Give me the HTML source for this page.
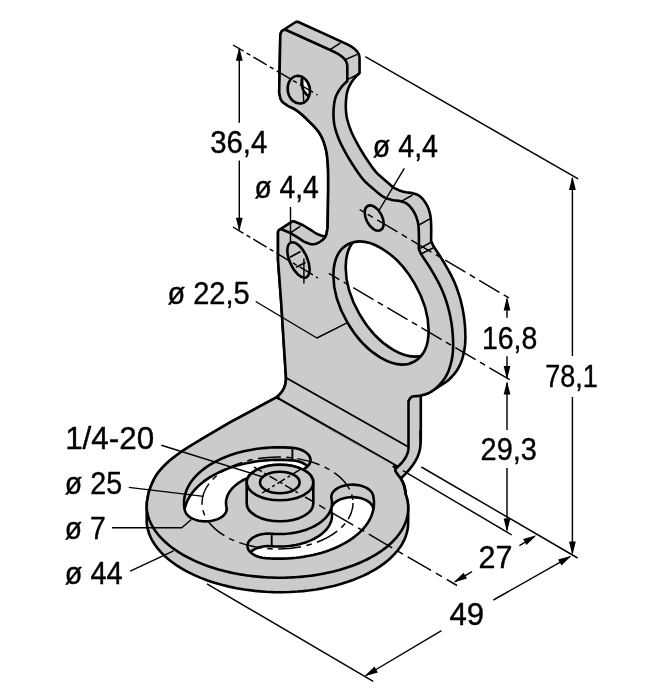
<!DOCTYPE html>
<html><head><meta charset="utf-8"><style>html,body{margin:0;padding:0;background:#fff;width:653px;height:700px;overflow:hidden}svg{display:block}text{font-family:"Liberation Sans",sans-serif;fill:#000;stroke:#000;stroke-width:0.4px}</style></head><body>
<svg width="653" height="700" viewBox="0 0 653 700"><defs><clipPath id="sl0"><path d="M184.92,510.75 L184.41,508.19 L184.1,505.61 L184,503.03 L184.1,500.46 L184.4,497.88 L184.91,495.32 L185.62,492.77 L186.53,490.25 L187.63,487.75 L188.94,485.29 L190.43,482.86 L192.12,480.48 L193.99,478.15 L196.05,475.87 L198.28,473.64 L200.69,471.48 L203.26,469.39 L206,467.37 L208.9,465.43 L211.94,463.57 L215.13,461.79 L218.46,460.1 L221.91,458.5 L225.49,457 L229.19,455.6 L232.99,454.3 L236.89,453.1 L240.88,452.01 L244.95,451.03 L249.09,450.16 L253.3,449.41 L257.57,448.77 L261.88,448.24 L266.22,447.84 L270.6,447.55 L274.99,447.38 L279.39,447.33 L283.79,447.4 L288.18,447.59 L292.55,447.9 L295.76,448.32 L298.83,449.04 L301.66,450.02 L304.2,451.26 L306.37,452.71 L308.13,454.34 L309.43,456.11 L310.25,457.98 L310.55,459.91 L310.34,461.83 L309.62,463.72 L308.4,465.51 L306.71,467.17 L304.61,468.66 L302.13,469.93 L299.35,470.96 L296.32,471.73 L293.13,472.21 L289.85,472.38 L286.56,472.26 L284.12,472.09 L281.67,471.98 L279.22,471.94 L276.76,471.97 L274.31,472.06 L271.87,472.22 L269.45,472.45 L267.04,472.74 L264.66,473.1 L262.31,473.52 L260,474.01 L257.73,474.55 L255.5,475.16 L253.33,475.83 L251.21,476.55 L249.15,477.34 L247.15,478.17 L245.22,479.07 L243.37,480.01 L241.59,481 L239.89,482.04 L238.28,483.12 L236.75,484.25 L235.31,485.42 L233.97,486.62 L232.72,487.86 L231.57,489.13 L230.53,490.44 L229.59,491.77 L228.75,493.12 L228.03,494.49 L227.41,495.89 L226.9,497.29 L226.51,498.72 L226.22,500.14 L226.06,501.58 L226,503.02 L226.06,504.46 L226.23,505.89 L226.52,507.32 L226.72,509.25 L226.4,511.17 L225.58,513.04 L224.26,514.81 L222.49,516.44 L220.31,517.89 L217.77,519.12 L214.93,520.1 L211.86,520.8 L208.64,521.22 L205.35,521.34 L202.07,521.15 L198.88,520.67 L195.86,519.9 L193.08,518.86 L190.61,517.58 L188.52,516.09 L186.85,514.43 L185.64,512.63 Z"/></clipPath><clipPath id="sl1"><path d="M373.08,495.25 L373.59,497.81 L373.9,500.39 L374,502.97 L373.9,505.54 L373.6,508.12 L373.09,510.68 L372.38,513.23 L371.47,515.75 L370.37,518.25 L369.06,520.71 L367.57,523.14 L365.88,525.52 L364.01,527.85 L361.95,530.13 L359.72,532.36 L357.31,534.52 L354.74,536.61 L352,538.63 L349.1,540.57 L346.06,542.43 L342.87,544.21 L339.54,545.9 L336.09,547.5 L332.51,549 L328.81,550.4 L325.01,551.7 L321.11,552.9 L317.12,553.99 L313.05,554.97 L308.91,555.84 L304.7,556.59 L300.43,557.23 L296.12,557.76 L291.78,558.16 L287.4,558.45 L283.01,558.62 L278.61,558.67 L274.21,558.6 L269.82,558.41 L265.45,558.1 L262.24,557.68 L259.17,556.96 L256.34,555.98 L253.8,554.74 L251.63,553.29 L249.87,551.66 L248.57,549.89 L247.75,548.02 L247.45,546.09 L247.66,544.17 L248.38,542.28 L249.6,540.49 L251.29,538.83 L253.39,537.34 L255.87,536.07 L258.65,535.04 L261.68,534.27 L264.87,533.79 L268.15,533.62 L271.44,533.74 L273.88,533.91 L276.33,534.02 L278.78,534.06 L281.24,534.03 L283.69,533.94 L286.13,533.78 L288.55,533.55 L290.96,533.26 L293.34,532.9 L295.69,532.48 L298,531.99 L300.27,531.45 L302.5,530.84 L304.67,530.17 L306.79,529.45 L308.85,528.66 L310.85,527.83 L312.78,526.93 L314.63,525.99 L316.41,525 L318.11,523.96 L319.72,522.88 L321.25,521.75 L322.69,520.58 L324.03,519.38 L325.28,518.14 L326.43,516.87 L327.47,515.56 L328.41,514.23 L329.25,512.88 L329.97,511.51 L330.59,510.11 L331.1,508.71 L331.49,507.28 L331.78,505.86 L331.94,504.42 L332,502.98 L331.94,501.54 L331.77,500.11 L331.48,498.68 L331.28,496.75 L331.6,494.83 L332.42,492.96 L333.74,491.19 L335.51,489.56 L337.69,488.11 L340.23,486.88 L343.07,485.9 L346.14,485.2 L349.36,484.78 L352.65,484.66 L355.93,484.85 L359.12,485.33 L362.14,486.1 L364.92,487.14 L367.39,488.42 L369.48,489.91 L371.15,491.57 L372.36,493.37 Z"/></clipPath><clipPath id="bh"><ellipse cx="381" cy="303" rx="67.36" ry="38.89" transform="rotate(60 381 303)"/></clipPath><clipPath id="h1"><ellipse cx="298.8" cy="89.7" rx="13.9" ry="11.1" transform="rotate(80 298.8 89.7)"/></clipPath></defs><rect width="653" height="700" fill="#fff"/><g stroke-linejoin="round" stroke-linecap="butt"><path d="M156.5,475 L154.36,478.6 L152.13,483.18 L150.28,487.79 L148.99,491.64 L148.23,494.86 L146.9,502 L146.71,507.99 L146.71,522.49 L147.03,525.41 L147.57,528.33 L148.79,532.68 L150.5,536.99 L151.91,539.82 L154.43,544.02 L157.41,548.13 L160.86,552.14 L164.75,556.02 L167.58,558.54 L170.59,561 L175.46,564.55 L180.71,567.95 L184.42,570.11 L188.29,572.19 L194.37,575.14 L200.77,577.89 L207.46,580.42 L214.41,582.73 L221.61,584.8 L229.02,586.63 L236.62,588.21 L244.37,589.54 L254.89,590.9 L260.22,591.4 L265.57,591.78 L273.64,592.14 L281.72,592.22 L289.78,592.02 L297.8,591.56 L303.1,591.11 L308.36,590.53 L316.14,589.45 L323.78,588.1 L328.78,587.07 L333.69,585.92 L340.87,583.99 L347.81,581.82 L354.48,579.42 L362.91,575.87 L368.86,572.97 L374.46,569.87 L379.69,566.58 L384.52,563.12 L387.52,560.73 L390.34,558.26 L394.19,554.45 L397.6,550.51 L400.56,546.46 L402.27,543.71 L403.76,540.92 L405.04,538.09 L406.11,535.24 L407.3,530.91 L407.82,528 L408.18,523.63 L408.14,506.2 L407.88,503.28 L407.4,500.36 L406.7,497.45 L405.78,494.56 L404.96,489.34 L404.43,486.81 L403.94,485.19 L403.34,483.6 L401.95,480.59 L400.74,478.44 L397.5,474.01 L397.5,466.5 L276.8,397.2 L230,422.4 L203.33,438.09 L184.59,449.56 L176.57,455.19 L172.6,458.21 L167.6,462.5 L161.92,468.17 L158.81,471.8 Z " fill="#cbcbcb" stroke="#000" stroke-width="2.6" />
<path d="M276.8,397.2 L230,422.4 L229.3,422.81 L228.6,423.23 L227.89,423.64 L227.18,424.06 L226.46,424.49 L225.74,424.91 L225.02,425.34 L224.29,425.76 L223.56,426.19 L222.83,426.62 L222.09,427.06 L221.35,427.49 L220.61,427.92 L219.87,428.36 L219.13,428.79 L218.39,429.23 L217.65,429.66 L216.9,430.1 L216.16,430.53 L215.42,430.96 L214.68,431.4 L213.95,431.83 L213.21,432.26 L212.48,432.69 L211.75,433.12 L211.02,433.55 L210.3,433.97 L209.58,434.4 L208.86,434.82 L208.15,435.24 L207.44,435.65 L206.74,436.07 L206.05,436.48 L205.36,436.89 L204.68,437.29 L204,437.69 L203.33,438.09 L202.67,438.48 L202.02,438.87 L201.37,439.26 L200.74,439.64 L200.11,440.01 L199.49,440.38 L198.88,440.75 L198.29,441.11 L197.7,441.47 L197.12,441.82 L196.55,442.16 L196,442.5 L195.16,443.01 L194.35,443.51 L193.56,443.99 L192.79,444.45 L192.04,444.91 L191.31,445.35 L190.6,445.79 L189.89,446.22 L189.21,446.64 L188.53,447.06 L187.86,447.47 L187.2,447.89 L186.54,448.3 L185.89,448.72 L185.24,449.14 L184.59,449.56 L183.94,449.99 L183.29,450.43 L182.63,450.87 L181.97,451.33 L181.3,451.8 L180.62,452.28 L179.95,452.76 L179.27,453.24 L178.59,453.72 L177.92,454.2 L177.24,454.69 L176.57,455.19 L175.9,455.68 L175.24,456.18 L174.57,456.68 L173.91,457.19 L173.25,457.7 L172.6,458.21 L171.95,458.73 L171.31,459.25 L170.68,459.78 L170.05,460.31 L169.42,460.85 L168.81,461.39 L168.2,461.94 L167.6,462.5 L167.02,463.05 L166.43,463.6 L165.86,464.16 L165.28,464.72 L164.71,465.28 L164.14,465.85 L163.58,466.43 L163.02,467 L162.47,467.58 L161.92,468.17 L161.38,468.76 L160.85,469.36 L160.33,469.96 L159.81,470.57 L159.31,471.18 L158.81,471.8 L158.33,472.43 L157.85,473.06 L157.39,473.7 L156.94,474.35 L156.5,475 L156.05,475.69 L155.62,476.4 L155.19,477.12 L154.77,477.85 L154.36,478.6 L153.97,479.35 L153.58,480.1 L153.2,480.87 L152.84,481.64 L152.48,482.41 L152.13,483.18 L151.8,483.96 L151.47,484.73 L151.16,485.5 L150.85,486.27 L150.56,487.03 L150.28,487.79 L150.01,488.53 L149.75,489.27 L149.5,490 L149.23,490.82 L148.99,491.64 L148.78,492.45 L148.58,493.26 L148.4,494.06 L148.23,494.86 L148.08,495.66 L147.93,496.45 L147.79,497.24 L147.65,498.03 L147.51,498.82 L147.37,499.61 L147.22,500.41 L147.07,501.2 L146.9,502 L146.71,507.99 L146.84,509.45 L147.03,510.91 L147.27,512.37 L147.57,513.83 L147.92,515.28 L148.33,516.73 L148.79,518.18 L149.31,519.62 L149.88,521.06 L150.5,522.49 L151.18,523.91 L151.91,525.32 L152.7,526.73 L153.54,528.13 L154.43,529.52 L155.37,530.9 L156.37,532.27 L157.41,533.63 L158.51,534.98 L159.66,536.31 L160.86,537.64 L162.1,538.95 L163.4,540.24 L164.75,541.52 L166.14,542.79 L167.58,544.04 L169.06,545.28 L170.59,546.5 L172.17,547.7 L173.79,548.89 L175.46,550.05 L177.17,551.2 L178.92,552.33 L180.71,553.45 L182.55,554.54 L184.42,555.61 L186.34,556.66 L188.29,557.69 L190.28,558.69 L192.31,559.68 L194.37,560.64 L196.47,561.58 L198.6,562.5 L200.77,563.39 L202.97,564.26 L205.2,565.11 L207.46,565.92 L209.75,566.72 L212.07,567.49 L214.41,568.23 L216.79,568.95 L219.19,569.64 L221.61,570.3 L224.06,570.94 L226.53,571.55 L229.02,572.13 L231.54,572.69 L234.07,573.22 L236.62,573.71 L239.19,574.18 L241.77,574.63 L244.37,575.04 L246.98,575.42 L249.61,575.78 L252.25,576.1 L254.89,576.4 L257.55,576.66 L260.22,576.9 L262.89,577.11 L265.57,577.28 L268.26,577.43 L270.95,577.55 L273.64,577.64 L276.33,577.69 L279.02,577.72 L281.72,577.72 L284.41,577.68 L287.1,577.62 L289.78,577.52 L292.46,577.4 L295.13,577.25 L297.8,577.06 L300.45,576.85 L303.1,576.61 L305.73,576.33 L308.36,576.03 L310.97,575.7 L313.56,575.34 L316.14,574.95 L318.71,574.53 L321.25,574.08 L323.78,573.6 L326.29,573.1 L328.78,572.57 L331.25,572.01 L333.69,571.42 L336.11,570.8 L338.5,570.16 L340.87,569.49 L343.21,568.79 L345.53,568.07 L347.81,567.32 L350.06,566.54 L352.29,565.74 L354.48,564.92 L356.64,564.07 L358.77,563.19 L360.86,562.3 L362.91,561.37 L364.93,560.43 L366.92,559.46 L368.86,558.47 L370.77,557.46 L372.63,556.42 L374.46,555.37 L376.24,554.29 L377.99,553.2 L379.69,552.08 L381.34,550.95 L382.96,549.79 L384.52,548.62 L386.05,547.43 L387.52,546.23 L388.95,545 L390.34,543.76 L391.67,542.51 L392.96,541.24 L394.19,539.95 L395.38,538.65 L396.52,537.34 L397.6,536.01 L398.64,534.68 L399.63,533.33 L400.56,531.96 L401.44,530.59 L402.27,529.21 L403.04,527.82 L403.76,526.42 L404.43,525.01 L405.04,523.59 L405.6,522.17 L406.11,520.74 L406.56,519.3 L406.96,517.86 L407.3,516.41 L407.58,514.96 L407.82,513.5 L407.99,512.05 L408.11,510.59 L408.18,509.13 L408.19,507.66 L408.14,506.2 L408.04,504.74 L407.88,503.28 L407.67,501.82 L407.4,500.36 L407.08,498.9 L406.7,497.45 L406.27,496 L405.78,494.56 L405.63,493.7 L405.49,492.83 L405.36,491.96 L405.23,491.08 L405.1,490.2 L404.96,489.34 L404.8,488.48 L404.63,487.63 L404.43,486.81 L404.2,486 L403.94,485.19 L403.65,484.39 L403.34,483.6 L403.02,482.83 L402.67,482.06 L402.32,481.32 L401.95,480.59 L401.58,479.88 L401.2,479.2 L400.74,478.44 L400.25,477.72 L399.75,477.02 L399.24,476.34 L398.73,475.68 L398.25,475.03 L397.8,474.4 L397.28,473.68 L396.75,472.99 L396.26,472.31 L395.86,471.65 L395.6,471 L395.46,470.17 L395.49,469.36 L395.7,468.6 L396.17,467.86 L396.84,467.18 L397.5,466.5 Z" fill="#cbcbcb" stroke="#000" stroke-width="2.6" />
<path d="M184.92,510.75 L184.41,508.19 L184.1,505.61 L184,503.03 L184.1,500.46 L184.4,497.88 L184.91,495.32 L185.62,492.77 L186.53,490.25 L187.63,487.75 L188.94,485.29 L190.43,482.86 L192.12,480.48 L193.99,478.15 L196.05,475.87 L198.28,473.64 L200.69,471.48 L203.26,469.39 L206,467.37 L208.9,465.43 L211.94,463.57 L215.13,461.79 L218.46,460.1 L221.91,458.5 L225.49,457 L229.19,455.6 L232.99,454.3 L236.89,453.1 L240.88,452.01 L244.95,451.03 L249.09,450.16 L253.3,449.41 L257.57,448.77 L261.88,448.24 L266.22,447.84 L270.6,447.55 L274.99,447.38 L279.39,447.33 L283.79,447.4 L288.18,447.59 L292.55,447.9 L295.76,448.32 L298.83,449.04 L301.66,450.02 L304.2,451.26 L306.37,452.71 L308.13,454.34 L309.43,456.11 L310.25,457.98 L310.55,459.91 L310.34,461.83 L309.62,463.72 L308.4,465.51 L306.71,467.17 L304.61,468.66 L302.13,469.93 L299.35,470.96 L296.32,471.73 L293.13,472.21 L289.85,472.38 L286.56,472.26 L284.12,472.09 L281.67,471.98 L279.22,471.94 L276.76,471.97 L274.31,472.06 L271.87,472.22 L269.45,472.45 L267.04,472.74 L264.66,473.1 L262.31,473.52 L260,474.01 L257.73,474.55 L255.5,475.16 L253.33,475.83 L251.21,476.55 L249.15,477.34 L247.15,478.17 L245.22,479.07 L243.37,480.01 L241.59,481 L239.89,482.04 L238.28,483.12 L236.75,484.25 L235.31,485.42 L233.97,486.62 L232.72,487.86 L231.57,489.13 L230.53,490.44 L229.59,491.77 L228.75,493.12 L228.03,494.49 L227.41,495.89 L226.9,497.29 L226.51,498.72 L226.22,500.14 L226.06,501.58 L226,503.02 L226.06,504.46 L226.23,505.89 L226.52,507.32 L226.72,509.25 L226.4,511.17 L225.58,513.04 L224.26,514.81 L222.49,516.44 L220.31,517.89 L217.77,519.12 L214.93,520.1 L211.86,520.8 L208.64,521.22 L205.35,521.34 L202.07,521.15 L198.88,520.67 L195.86,519.9 L193.08,518.86 L190.61,517.58 L188.52,516.09 L186.85,514.43 L185.64,512.63 Z" fill="#cbcbcb" stroke="none" stroke-width="0" />
<g clip-path="url(#sl0)">
<path d="M184.92,523.25 L184.41,520.69 L184.1,518.11 L184,515.53 L184.1,512.96 L184.4,510.38 L184.91,507.82 L185.62,505.27 L186.53,502.75 L187.63,500.25 L188.94,497.79 L190.43,495.36 L192.12,492.98 L193.99,490.65 L196.05,488.37 L198.28,486.14 L200.69,483.98 L203.26,481.89 L206,479.87 L208.9,477.93 L211.94,476.07 L215.13,474.29 L218.46,472.6 L221.91,471 L225.49,469.5 L229.19,468.1 L232.99,466.8 L236.89,465.6 L240.88,464.51 L244.95,463.53 L249.09,462.66 L253.3,461.91 L257.57,461.27 L261.88,460.74 L266.22,460.34 L270.6,460.05 L274.99,459.88 L279.39,459.83 L283.79,459.9 L288.18,460.09 L292.55,460.4 L295.76,460.82 L298.83,461.54 L301.66,462.52 L304.2,463.76 L306.37,465.21 L308.13,466.84 L309.43,468.61 L310.25,470.48 L310.55,472.41 L310.34,474.33 L309.62,476.22 L308.4,478.01 L306.71,479.67 L304.61,481.16 L302.13,482.43 L299.35,483.46 L296.32,484.23 L293.13,484.71 L289.85,484.88 L286.56,484.76 L284.12,484.59 L281.67,484.48 L279.22,484.44 L276.76,484.47 L274.31,484.56 L271.87,484.72 L269.45,484.95 L267.04,485.24 L264.66,485.6 L262.31,486.02 L260,486.51 L257.73,487.05 L255.5,487.66 L253.33,488.33 L251.21,489.05 L249.15,489.84 L247.15,490.67 L245.22,491.57 L243.37,492.51 L241.59,493.5 L239.89,494.54 L238.28,495.62 L236.75,496.75 L235.31,497.92 L233.97,499.12 L232.72,500.36 L231.57,501.63 L230.53,502.94 L229.59,504.27 L228.75,505.62 L228.03,506.99 L227.41,508.39 L226.9,509.79 L226.51,511.22 L226.22,512.64 L226.06,514.08 L226,515.52 L226.06,516.96 L226.23,518.39 L226.52,519.82 L226.72,521.75 L226.4,523.67 L225.58,525.54 L224.26,527.31 L222.49,528.94 L220.31,530.39 L217.77,531.62 L214.93,532.6 L211.86,533.3 L208.64,533.72 L205.35,533.84 L202.07,533.65 L198.88,533.17 L195.86,532.4 L193.08,531.36 L190.61,530.08 L188.52,528.59 L186.85,526.93 L185.64,525.13 Z" fill="#fff" stroke="#000" stroke-width="2.6" />
</g>
<path d="M184.92,510.75 L184.41,508.19 L184.1,505.61 L184,503.03 L184.1,500.46 L184.4,497.88 L184.91,495.32 L185.62,492.77 L186.53,490.25 L187.63,487.75 L188.94,485.29 L190.43,482.86 L192.12,480.48 L193.99,478.15 L196.05,475.87 L198.28,473.64 L200.69,471.48 L203.26,469.39 L206,467.37 L208.9,465.43 L211.94,463.57 L215.13,461.79 L218.46,460.1 L221.91,458.5 L225.49,457 L229.19,455.6 L232.99,454.3 L236.89,453.1 L240.88,452.01 L244.95,451.03 L249.09,450.16 L253.3,449.41 L257.57,448.77 L261.88,448.24 L266.22,447.84 L270.6,447.55 L274.99,447.38 L279.39,447.33 L283.79,447.4 L288.18,447.59 L292.55,447.9 L295.76,448.32 L298.83,449.04 L301.66,450.02 L304.2,451.26 L306.37,452.71 L308.13,454.34 L309.43,456.11 L310.25,457.98 L310.55,459.91 L310.34,461.83 L309.62,463.72 L308.4,465.51 L306.71,467.17 L304.61,468.66 L302.13,469.93 L299.35,470.96 L296.32,471.73 L293.13,472.21 L289.85,472.38 L286.56,472.26 L284.12,472.09 L281.67,471.98 L279.22,471.94 L276.76,471.97 L274.31,472.06 L271.87,472.22 L269.45,472.45 L267.04,472.74 L264.66,473.1 L262.31,473.52 L260,474.01 L257.73,474.55 L255.5,475.16 L253.33,475.83 L251.21,476.55 L249.15,477.34 L247.15,478.17 L245.22,479.07 L243.37,480.01 L241.59,481 L239.89,482.04 L238.28,483.12 L236.75,484.25 L235.31,485.42 L233.97,486.62 L232.72,487.86 L231.57,489.13 L230.53,490.44 L229.59,491.77 L228.75,493.12 L228.03,494.49 L227.41,495.89 L226.9,497.29 L226.51,498.72 L226.22,500.14 L226.06,501.58 L226,503.02 L226.06,504.46 L226.23,505.89 L226.52,507.32 L226.72,509.25 L226.4,511.17 L225.58,513.04 L224.26,514.81 L222.49,516.44 L220.31,517.89 L217.77,519.12 L214.93,520.1 L211.86,520.8 L208.64,521.22 L205.35,521.34 L202.07,521.15 L198.88,520.67 L195.86,519.9 L193.08,518.86 L190.61,517.58 L188.52,516.09 L186.85,514.43 L185.64,512.63 Z" fill="none" stroke="#000" stroke-width="2.6" />
<path d="M373.08,495.25 L373.59,497.81 L373.9,500.39 L374,502.97 L373.9,505.54 L373.6,508.12 L373.09,510.68 L372.38,513.23 L371.47,515.75 L370.37,518.25 L369.06,520.71 L367.57,523.14 L365.88,525.52 L364.01,527.85 L361.95,530.13 L359.72,532.36 L357.31,534.52 L354.74,536.61 L352,538.63 L349.1,540.57 L346.06,542.43 L342.87,544.21 L339.54,545.9 L336.09,547.5 L332.51,549 L328.81,550.4 L325.01,551.7 L321.11,552.9 L317.12,553.99 L313.05,554.97 L308.91,555.84 L304.7,556.59 L300.43,557.23 L296.12,557.76 L291.78,558.16 L287.4,558.45 L283.01,558.62 L278.61,558.67 L274.21,558.6 L269.82,558.41 L265.45,558.1 L262.24,557.68 L259.17,556.96 L256.34,555.98 L253.8,554.74 L251.63,553.29 L249.87,551.66 L248.57,549.89 L247.75,548.02 L247.45,546.09 L247.66,544.17 L248.38,542.28 L249.6,540.49 L251.29,538.83 L253.39,537.34 L255.87,536.07 L258.65,535.04 L261.68,534.27 L264.87,533.79 L268.15,533.62 L271.44,533.74 L273.88,533.91 L276.33,534.02 L278.78,534.06 L281.24,534.03 L283.69,533.94 L286.13,533.78 L288.55,533.55 L290.96,533.26 L293.34,532.9 L295.69,532.48 L298,531.99 L300.27,531.45 L302.5,530.84 L304.67,530.17 L306.79,529.45 L308.85,528.66 L310.85,527.83 L312.78,526.93 L314.63,525.99 L316.41,525 L318.11,523.96 L319.72,522.88 L321.25,521.75 L322.69,520.58 L324.03,519.38 L325.28,518.14 L326.43,516.87 L327.47,515.56 L328.41,514.23 L329.25,512.88 L329.97,511.51 L330.59,510.11 L331.1,508.71 L331.49,507.28 L331.78,505.86 L331.94,504.42 L332,502.98 L331.94,501.54 L331.77,500.11 L331.48,498.68 L331.28,496.75 L331.6,494.83 L332.42,492.96 L333.74,491.19 L335.51,489.56 L337.69,488.11 L340.23,486.88 L343.07,485.9 L346.14,485.2 L349.36,484.78 L352.65,484.66 L355.93,484.85 L359.12,485.33 L362.14,486.1 L364.92,487.14 L367.39,488.42 L369.48,489.91 L371.15,491.57 L372.36,493.37 Z" fill="#cbcbcb" stroke="none" stroke-width="0" />
<g clip-path="url(#sl1)">
<path d="M373.08,507.75 L373.59,510.31 L373.9,512.89 L374,515.47 L373.9,518.04 L373.6,520.62 L373.09,523.18 L372.38,525.73 L371.47,528.25 L370.37,530.75 L369.06,533.21 L367.57,535.64 L365.88,538.02 L364.01,540.35 L361.95,542.63 L359.72,544.86 L357.31,547.02 L354.74,549.11 L352,551.13 L349.1,553.07 L346.06,554.93 L342.87,556.71 L339.54,558.4 L336.09,560 L332.51,561.5 L328.81,562.9 L325.01,564.2 L321.11,565.4 L317.12,566.49 L313.05,567.47 L308.91,568.34 L304.7,569.09 L300.43,569.73 L296.12,570.26 L291.78,570.66 L287.4,570.95 L283.01,571.12 L278.61,571.17 L274.21,571.1 L269.82,570.91 L265.45,570.6 L262.24,570.18 L259.17,569.46 L256.34,568.48 L253.8,567.24 L251.63,565.79 L249.87,564.16 L248.57,562.39 L247.75,560.52 L247.45,558.59 L247.66,556.67 L248.38,554.78 L249.6,552.99 L251.29,551.33 L253.39,549.84 L255.87,548.57 L258.65,547.54 L261.68,546.77 L264.87,546.29 L268.15,546.12 L271.44,546.24 L273.88,546.41 L276.33,546.52 L278.78,546.56 L281.24,546.53 L283.69,546.44 L286.13,546.28 L288.55,546.05 L290.96,545.76 L293.34,545.4 L295.69,544.98 L298,544.49 L300.27,543.95 L302.5,543.34 L304.67,542.67 L306.79,541.95 L308.85,541.16 L310.85,540.33 L312.78,539.43 L314.63,538.49 L316.41,537.5 L318.11,536.46 L319.72,535.38 L321.25,534.25 L322.69,533.08 L324.03,531.88 L325.28,530.64 L326.43,529.37 L327.47,528.06 L328.41,526.73 L329.25,525.38 L329.97,524.01 L330.59,522.61 L331.1,521.21 L331.49,519.78 L331.78,518.36 L331.94,516.92 L332,515.48 L331.94,514.04 L331.77,512.61 L331.48,511.18 L331.28,509.25 L331.6,507.33 L332.42,505.46 L333.74,503.69 L335.51,502.06 L337.69,500.61 L340.23,499.38 L343.07,498.4 L346.14,497.7 L349.36,497.28 L352.65,497.16 L355.93,497.35 L359.12,497.83 L362.14,498.6 L364.92,499.64 L367.39,500.92 L369.48,502.41 L371.15,504.07 L372.36,505.87 Z" fill="#fff" stroke="#000" stroke-width="2.6" />
</g>
<path d="M373.08,495.25 L373.59,497.81 L373.9,500.39 L374,502.97 L373.9,505.54 L373.6,508.12 L373.09,510.68 L372.38,513.23 L371.47,515.75 L370.37,518.25 L369.06,520.71 L367.57,523.14 L365.88,525.52 L364.01,527.85 L361.95,530.13 L359.72,532.36 L357.31,534.52 L354.74,536.61 L352,538.63 L349.1,540.57 L346.06,542.43 L342.87,544.21 L339.54,545.9 L336.09,547.5 L332.51,549 L328.81,550.4 L325.01,551.7 L321.11,552.9 L317.12,553.99 L313.05,554.97 L308.91,555.84 L304.7,556.59 L300.43,557.23 L296.12,557.76 L291.78,558.16 L287.4,558.45 L283.01,558.62 L278.61,558.67 L274.21,558.6 L269.82,558.41 L265.45,558.1 L262.24,557.68 L259.17,556.96 L256.34,555.98 L253.8,554.74 L251.63,553.29 L249.87,551.66 L248.57,549.89 L247.75,548.02 L247.45,546.09 L247.66,544.17 L248.38,542.28 L249.6,540.49 L251.29,538.83 L253.39,537.34 L255.87,536.07 L258.65,535.04 L261.68,534.27 L264.87,533.79 L268.15,533.62 L271.44,533.74 L273.88,533.91 L276.33,534.02 L278.78,534.06 L281.24,534.03 L283.69,533.94 L286.13,533.78 L288.55,533.55 L290.96,533.26 L293.34,532.9 L295.69,532.48 L298,531.99 L300.27,531.45 L302.5,530.84 L304.67,530.17 L306.79,529.45 L308.85,528.66 L310.85,527.83 L312.78,526.93 L314.63,525.99 L316.41,525 L318.11,523.96 L319.72,522.88 L321.25,521.75 L322.69,520.58 L324.03,519.38 L325.28,518.14 L326.43,516.87 L327.47,515.56 L328.41,514.23 L329.25,512.88 L329.97,511.51 L330.59,510.11 L331.1,508.71 L331.49,507.28 L331.78,505.86 L331.94,504.42 L332,502.98 L331.94,501.54 L331.77,500.11 L331.48,498.68 L331.28,496.75 L331.6,494.83 L332.42,492.96 L333.74,491.19 L335.51,489.56 L337.69,488.11 L340.23,486.88 L343.07,485.9 L346.14,485.2 L349.36,484.78 L352.65,484.66 L355.93,484.85 L359.12,485.33 L362.14,486.1 L364.92,487.14 L367.39,488.42 L369.48,489.91 L371.15,491.57 L372.36,493.37 Z" fill="none" stroke="#000" stroke-width="2.6" />
<line x1="292.4" y1="447.9" x2="292.4" y2="459.6" stroke="#000" stroke-width="1.89" />
<line x1="271.7" y1="533.7" x2="271.7" y2="546.5" stroke="#000" stroke-width="1.89" />
<ellipse cx="277.5" cy="503" rx="75.5" ry="46" transform="rotate(0 277.5 503)" fill="none" stroke="#000" stroke-width="1.45" stroke-dasharray="23 5.5 5.5 5.5" stroke-dashoffset="6"/>
<path d="M246.7,482.5 L246.7,503.5 A33.3,17.8 0 0 0 313.3,503.5 L313.3,482.5 A33.3,17.8 0 0 0 246.7,482.5 Z" fill="#cbcbcb" stroke="#000" stroke-width="2.6" />
<ellipse cx="280" cy="482.5" rx="33.3" ry="17.8" transform="rotate(0 280 482.5)" fill="#cbcbcb" stroke="#000" stroke-width="2.6" />
<ellipse cx="279.8" cy="482.5" rx="19.8" ry="10.7" transform="rotate(0 279.8 482.5)" fill="#cbcbcb" stroke="#000" stroke-width="2.6" />
<line x1="254" y1="467" x2="300" y2="494" stroke="#000" stroke-width="1.45" stroke-dasharray="9 3 3 3"/>
<line x1="262" y1="493" x2="301" y2="469" stroke="#000" stroke-width="1.45" stroke-dasharray="9 3 3 3"/>
<line x1="457" y1="585.5" x2="305" y2="497" stroke="#000" stroke-width="1.45" stroke-dasharray="27 5.5 7 5.5" stroke-dashoffset="15"/>
<path d="M281.27,32.08 L280.81,33.17 L280.49,34.48 L280.3,36 L279.2,92.7 L280.59,98.57 L281.15,99.89 L281.9,101.06 L282.83,102.07 L283.89,103 L288.09,105.87 L293.94,108.77 L296,110 L300.21,113.21 L304.59,117.04 L311.83,124.11 L315.79,128.35 L318.87,132.26 L321.04,135.84 L323.08,140.29 L324.68,144.93 L326.12,150.35 L326.95,155.13 L327.53,160.77 L328.07,169.3 L328.19,175.58 L328.2,190 L327.6,228 L326.48,233.9 L325.63,236.25 L324.52,236.3 L323.16,236.14 L321.8,235.8 L317.1,233.92 L314.65,232.54 L309.87,229.36 L302.7,225 L293.8,221.2 L292.54,221.38 L291.56,221.86 L279.26,229.86 L278.56,230.62 L278.14,231.66 L278,233 L278,260 L281,300 L286,377.8 L285.89,380.45 L285.43,383.61 L284.88,385.72 L283.9,388.25 L282.68,390.48 L281.27,392.48 L279.32,394.73 L276.8,397.2 L396.5,468 L408.8,460 L411.22,457.71 L413.55,455.29 L415.29,453.25 L416.87,451.09 L418.24,448.81 L419.11,447.02 L420.02,444.5 L420.49,442.52 L420.8,439 L420.8,395.48 L426.08,393.98 L428.74,392.92 L430.62,391.96 L445.32,382.45 L447.62,380.72 L449.82,378.76 L452.27,376.25 L454.54,373.63 L456.68,370.75 L458.24,368.27 L459.58,365.72 L460.91,362.65 L462.08,359.36 L462.9,356.61 L464.21,350.9 L465.1,344.68 L465.42,337.74 L465.18,329.21 L464.84,324.3 L463.96,316.54 L462.49,308.12 L460.56,299.92 L458.75,293.82 L456.66,287.86 L454.02,281.35 L451.57,276.17 L448.2,269.8 L443.55,261.74 L440.46,256.83 L433.3,246 L431.1,241 L431.24,228.38 L430.94,220.35 L430.49,216.05 L429.73,212.53 L428.6,208.96 L427.14,205.59 L425.34,202.5 L423.17,199.57 L421.25,197.47 L419.3,195.8 L417.4,194.68 L415.44,193.92 L412.66,193.14 L406.25,192.33 L403.43,191.72 L398.78,190.17 L394.9,188.3 L393.11,187.15 L390.8,185.35 L378.62,174.78 L375.6,171.58 L372.51,167.65 L369.07,162.78 L364.23,155.46 L360.48,149.28 L356.59,142.33 L353.55,136.51 L351.44,131.92 L349.63,127.23 L348.26,123.16 L347.32,119.74 L346.6,116.3 L346.11,112.73 L345.82,108.39 L345.81,104.1 L346.05,99.78 L346.53,95.36 L347.21,91.8 L348.26,88.41 L349.47,85.72 L351.7,81.93 L354.16,78.51 L356.09,76.39 L359.6,73 L359.54,57.43 L359.04,55.07 L358.61,53.99 L357.79,52.45 L356.35,50.58 L354.1,48.49 L351.44,46.61 L347.84,44.58 L342,41.8 L297.8,21.8 L296.69,21.83 L295.71,22.07 L294.87,22.53 L282.57,30.53 L281.85,31.2 Z " fill="#cbcbcb" stroke="none" stroke-width="0" />
<path d="M281.27,32.08 L280.81,33.17 L280.49,34.48 L280.3,36 L279.2,92.7 L280.59,98.57 L281.15,99.89 L281.9,101.06 L282.83,102.07 L283.89,103 L288.09,105.87 L293.94,108.77 L296,110 L300.21,113.21 L304.59,117.04 L311.83,124.11 L315.79,128.35 L318.87,132.26 L321.04,135.84 L323.08,140.29 L324.68,144.93 L326.12,150.35 L326.95,155.13 L327.53,160.77 L328.07,169.3 L328.19,175.58 L328.2,190 L327.6,228 L326.48,233.9 L325.63,236.25 L324.52,236.3 L323.16,236.14 L321.8,235.8 L317.1,233.92 L314.65,232.54 L309.87,229.36 L302.7,225 L293.8,221.2 L292.54,221.38 L291.56,221.86 L279.26,229.86 L278.56,230.62 L278.14,231.66 L278,233 L278,260 L281,300 L286,377.8 L285.89,380.45 L285.43,383.61 L284.88,385.72 L283.9,388.25 L282.68,390.48 L281.27,392.48 L279.32,394.73 L276.8,397.2 L279.67,398.9 M392.97,465.91 L396.5,468 L408.8,460 L411.22,457.71 L413.55,455.29 L415.29,453.25 L416.87,451.09 L418.24,448.81 L419.11,447.02 L420.02,444.5 L420.49,442.52 L420.8,439 L420.8,395.48 L426.08,393.98 L428.74,392.92 L430.62,391.96 L445.32,382.45 L447.62,380.72 L449.82,378.76 L452.27,376.25 L454.54,373.63 L456.68,370.75 L458.24,368.27 L459.58,365.72 L460.91,362.65 L462.08,359.36 L462.9,356.61 L464.21,350.9 L465.1,344.68 L465.42,337.74 L465.18,329.21 L464.84,324.3 L463.96,316.54 L462.49,308.12 L460.56,299.92 L458.75,293.82 L456.66,287.86 L454.02,281.35 L451.57,276.17 L448.2,269.8 L443.55,261.74 L440.46,256.83 L433.3,246 L431.1,241 L431.24,228.38 L430.94,220.35 L430.49,216.05 L429.73,212.53 L428.6,208.96 L427.14,205.59 L425.34,202.5 L423.17,199.57 L421.25,197.47 L419.3,195.8 L417.4,194.68 L415.44,193.92 L412.66,193.14 L406.25,192.33 L403.43,191.72 L398.78,190.17 L394.9,188.3 L393.11,187.15 L390.8,185.35 L378.62,174.78 L375.6,171.58 L372.51,167.65 L369.07,162.78 L364.23,155.46 L360.48,149.28 L356.59,142.33 L353.55,136.51 L351.44,131.92 L349.63,127.23 L348.26,123.16 L347.32,119.74 L346.6,116.3 L346.11,112.73 L345.82,108.39 L345.81,104.1 L346.05,99.78 L346.53,95.36 L347.21,91.8 L348.26,88.41 L349.47,85.72 L351.7,81.93 L354.16,78.51 L356.09,76.39 L359.6,73 L359.54,57.43 L359.04,55.07 L358.61,53.99 L357.79,52.45 L356.35,50.58 L354.1,48.49 L351.44,46.61 L347.84,44.58 L342,41.8 L297.8,21.8 L296.69,21.83 L295.71,22.07 L294.87,22.53 L282.57,30.53 L281.85,31.2 L281.27,32.08 " fill="none" stroke="#000" stroke-width="2.6" />
<path d="M408.5,438 L420.5,438 L420.5,444 C420.5,456 413,467 401,477.5 L399.5,476 L396.5,472.3 L395.3,469.8 L396.5,468 C402.5,462.5 408.5,456 408.5,447 Z" fill="#cbcbcb" stroke="none" stroke-width="0" />
<path d="M420.5,430 L420.5,444 C420.5,456 413,467 401.5,477.8" fill="none" stroke="#000" stroke-width="2.6" />
<path d="M280.3,36 L279.2,92.7 L279.4,93.42 L279.57,94.15 L279.72,94.9 L279.88,95.65 L280.03,96.4 L280.19,97.14 L280.38,97.86 L280.59,98.57 L280.85,99.25 L281.15,99.89 L281.5,100.5 L281.9,101.06 L282.34,101.58 L282.83,102.07 L283.34,102.55 L283.89,103 L284.46,103.43 L285.05,103.86 L285.65,104.27 L286.26,104.68 L286.88,105.09 L287.5,105.5 L288.09,105.87 L288.69,106.22 L289.31,106.55 L289.95,106.86 L290.59,107.16 L291.25,107.47 L291.91,107.77 L292.58,108.09 L293.26,108.42 L293.94,108.77 L294.63,109.14 L295.31,109.55 L296,110 L296.51,110.35 L297.02,110.72 L297.54,111.1 L298.07,111.5 L298.6,111.91 L299.13,112.33 L299.67,112.76 L300.21,113.21 L300.76,113.66 L301.31,114.12 L301.85,114.59 L302.4,115.07 L302.95,115.56 L303.5,116.05 L304.04,116.54 L304.59,117.04 L305.13,117.55 L305.67,118.05 L306.21,118.56 L306.74,119.07 L307.26,119.58 L307.79,120.09 L308.3,120.6 L308.79,121.09 L309.29,121.58 L309.8,122.08 L310.3,122.58 L310.81,123.09 L311.32,123.6 L311.83,124.11 L312.33,124.63 L312.84,125.15 L313.34,125.67 L313.84,126.2 L314.34,126.73 L314.83,127.27 L315.31,127.81 L315.79,128.35 L316.26,128.9 L316.72,129.45 L317.18,130.01 L317.62,130.56 L318.05,131.13 L318.47,131.69 L318.87,132.26 L319.26,132.84 L319.64,133.42 L320,134 L320.36,134.61 L320.71,135.22 L321.04,135.84 L321.36,136.46 L321.68,137.09 L321.98,137.72 L322.27,138.36 L322.55,139 L322.82,139.64 L323.08,140.29 L323.33,140.94 L323.58,141.6 L323.81,142.26 L324.04,142.92 L324.26,143.59 L324.47,144.26 L324.68,144.93 L324.88,145.6 L325.07,146.28 L325.26,146.96 L325.45,147.64 L325.63,148.32 L325.8,149 L325.96,149.68 L326.12,150.35 L326.26,151.03 L326.4,151.71 L326.52,152.39 L326.64,153.07 L326.75,153.75 L326.86,154.44 L326.95,155.13 L327.04,155.82 L327.12,156.52 L327.2,157.22 L327.28,157.92 L327.34,158.62 L327.41,159.34 L327.47,160.05 L327.53,160.77 L327.59,161.5 L327.64,162.23 L327.69,162.97 L327.74,163.72 L327.8,164.47 L327.85,165.23 L327.9,166 L327.94,166.65 L327.98,167.3 L328.01,167.96 L328.04,168.63 L328.07,169.3 L328.09,169.98 L328.11,170.67 L328.13,171.36 L328.15,172.05 L328.16,172.75 L328.17,173.45 L328.18,174.16 L328.19,174.87 L328.19,175.58 L328.19,176.3 L328.2,177.02 L328.2,177.74 L328.2,178.46 L328.19,179.18 L328.19,179.91 L328.19,180.63 L328.19,181.36 L328.19,182.09 L328.18,182.81 L328.18,183.54 L328.18,184.26 L328.18,184.99 L328.18,185.71 L328.18,186.43 L328.18,187.15 L328.18,187.87 L328.19,188.58 L328.19,189.29 L328.2,190 L327.6,228 L327.44,228.72 L327.29,229.45 L327.16,230.2 L327.04,230.95 L326.91,231.7 L326.78,232.44 L326.64,233.18 L326.48,233.9 L326.29,234.6 L326.07,235.26 L325.81,235.9 L325.5,236.5 L325.12,237.11 L324.71,237.7 L324.26,238.26 L323.77,238.79 L323.26,239.3 L322.73,239.78 L322.17,240.25 L321.59,240.69 L321,241.1 L320.4,241.5 L319.8,241.87 L319.17,242.23 L318.51,242.58 L317.84,242.91 L317.14,243.22 L316.44,243.51 L315.73,243.75 L315.01,243.96 L314.3,244.13 L313.59,244.24 L312.9,244.3 L312.22,244.3 L311.54,244.24 L310.86,244.14 L310.18,243.99 L309.5,243.8 L308.81,243.58 L308.13,243.34 L307.44,243.07 L306.76,242.79 L306.08,242.5 L305.4,242.2 L304.8,241.92 L304.19,241.61 L303.58,241.27 L302.97,240.91 L302.35,240.54 L301.74,240.14 L301.13,239.74 L300.53,239.34 L299.92,238.93 L299.32,238.52 L298.73,238.12 L298.15,237.73 L297.57,237.36 L297,237 L296.37,236.61 L295.75,236.24 L295.14,235.87 L294.54,235.5 L293.95,235.14 L293.36,234.78 L292.77,234.43 L292.18,234.07 L291.59,233.72 L291,233.36 L290.4,233 L281.5,229.2 L280.84,229.26 L280.24,229.38 L279.71,229.58 L279.26,229.86 L278.88,230.2 L278.56,230.62 L278.31,231.1 L278.14,231.66 L278.04,232.3 L278,233 L278,260 L281,300 L286,377.8 L285.99,378.71 L285.95,379.6 L285.89,380.45 L285.81,381.28 L285.71,382.08 L285.58,382.86 L285.43,383.61 L285.27,384.34 L285.08,385.04 L284.88,385.72 L284.66,386.39 L284.42,387.03 L284.17,387.65 L283.9,388.25 L283.61,388.83 L283.32,389.4 L283.01,389.95 L282.68,390.48 L282.35,391 L282,391.51 L281.64,392 L281.27,392.48 L280.9,392.95 L280.51,393.41 L280.12,393.86 L279.72,394.3 L279.32,394.73 L278.91,395.16 L278.49,395.57 L278.07,395.99 L277.65,396.39 L277.23,396.8 L276.8,397.2 L396.5,468 L396.99,467.55 L397.47,467.1 L397.96,466.64 L398.44,466.18 L398.92,465.71 L399.39,465.24 L399.86,464.76 L400.33,464.28 L400.79,463.79 L401.25,463.29 L401.69,462.79 L402.13,462.28 L402.56,461.77 L402.99,461.25 L403.4,460.72 L403.8,460.18 L404.19,459.64 L404.57,459.09 L404.93,458.53 L405.28,457.97 L405.62,457.39 L405.94,456.81 L406.25,456.22 L406.54,455.63 L406.81,455.02 L407.07,454.4 L407.3,453.78 L407.52,453.15 L407.72,452.5 L407.9,451.85 L408.05,451.19 L408.19,450.52 L408.3,449.83 L408.38,449.14 L408.45,448.44 L408.49,447.72 L408.5,447 L408.5,401 L408.9,400.41 L409.27,399.78 L409.63,399.15 L410,398.53 L410.42,397.95 L410.91,397.44 L411.5,397 L412.03,396.74 L412.61,396.54 L413.25,396.4 L413.93,396.3 L414.65,396.22 L415.39,396.17 L416.16,396.13 L416.94,396.09 L417.72,396.04 L418.49,395.96 L419.26,395.85 L420,395.7 L420.65,395.54 L421.31,395.37 L421.98,395.2 L422.66,395.02 L423.34,394.83 L424.03,394.64 L424.71,394.43 L425.4,394.21 L426.08,393.98 L426.76,393.74 L427.43,393.48 L428.09,393.21 L428.74,392.92 L429.38,392.62 L430,392.3 L430.62,391.96 L431.23,391.6 L431.84,391.23 L432.43,390.85 L433.02,390.45 L433.61,390.04 L434.18,389.61 L434.75,389.17 L435.32,388.72 L435.88,388.25 L436.43,387.77 L436.98,387.27 L437.52,386.76 L438.06,386.24 L438.6,385.7 L439.06,385.23 L439.52,384.75 L439.97,384.25 L440.43,383.75 L440.89,383.24 L441.34,382.71 L441.79,382.18 L442.24,381.63 L442.68,381.08 L443.11,380.51 L443.54,379.93 L443.96,379.35 L444.38,378.75 L444.78,378.15 L445.18,377.53 L445.57,376.9 L445.94,376.27 L446.31,375.62 L446.66,374.97 L447,374.3 L447.28,373.72 L447.56,373.12 L447.83,372.52 L448.1,371.91 L448.36,371.28 L448.61,370.65 L448.86,370.01 L449.1,369.36 L449.33,368.7 L449.56,368.03 L449.78,367.36 L449.99,366.68 L450.2,365.99 L450.4,365.3 L450.6,364.61 L450.79,363.9 L450.97,363.2 L451.14,362.49 L451.31,361.78 L451.47,361.06 L451.62,360.34 L451.77,359.62 L451.91,358.9 L452.04,358.17 L452.17,357.45 L452.29,356.72 L452.4,356 L452.49,355.35 L452.58,354.69 L452.66,354.02 L452.73,353.35 L452.8,352.68 L452.86,352 L452.91,351.32 L452.95,350.63 L453,349.94 L453.03,349.25 L453.06,348.55 L453.08,347.85 L453.1,347.15 L453.11,346.45 L453.12,345.74 L453.12,345.03 L453.12,344.33 L453.11,343.62 L453.1,342.9 L453.09,342.19 L453.07,341.48 L453.05,340.77 L453.02,340.06 L452.99,339.34 L452.96,338.63 L452.92,337.92 L452.88,337.21 L452.84,336.51 L452.8,335.8 L452.75,335.1 L452.7,334.39 L452.65,333.7 L452.6,333 L452.54,332.3 L452.48,331.6 L452.42,330.9 L452.35,330.19 L452.28,329.49 L452.2,328.78 L452.12,328.08 L452.03,327.37 L451.95,326.66 L451.85,325.96 L451.76,325.25 L451.66,324.54 L451.55,323.83 L451.45,323.13 L451.34,322.42 L451.22,321.72 L451.11,321.01 L450.99,320.31 L450.86,319.61 L450.73,318.91 L450.6,318.21 L450.47,317.51 L450.33,316.82 L450.19,316.12 L450.05,315.43 L449.9,314.74 L449.75,314.06 L449.6,313.37 L449.45,312.69 L449.29,312.01 L449.13,311.34 L448.97,310.67 L448.8,310 L448.62,309.3 L448.44,308.61 L448.26,307.92 L448.07,307.23 L447.88,306.55 L447.69,305.87 L447.49,305.19 L447.29,304.51 L447.08,303.83 L446.88,303.16 L446.67,302.49 L446.45,301.82 L446.23,301.15 L446.01,300.48 L445.79,299.82 L445.56,299.15 L445.33,298.49 L445.09,297.83 L444.85,297.17 L444.61,296.52 L444.36,295.86 L444.12,295.21 L443.86,294.55 L443.61,293.9 L443.35,293.25 L443.08,292.6 L442.82,291.95 L442.55,291.3 L442.28,290.65 L442,290 L441.72,289.35 L441.43,288.7 L441.13,288.05 L440.83,287.4 L440.53,286.75 L440.22,286.1 L439.91,285.45 L439.59,284.81 L439.27,284.17 L438.95,283.52 L438.62,282.88 L438.29,282.24 L437.96,281.6 L437.62,280.97 L437.28,280.33 L436.94,279.7 L436.6,279.06 L436.25,278.43 L435.9,277.8 L435.55,277.18 L435.2,276.55 L434.85,275.93 L434.49,275.3 L434.14,274.68 L433.78,274.07 L433.43,273.45 L433.07,272.83 L432.71,272.22 L432.36,271.61 L432,271 L431.63,270.37 L431.25,269.74 L430.87,269.12 L430.49,268.5 L430.11,267.88 L429.73,267.26 L429.34,266.65 L428.95,266.04 L428.56,265.43 L428.16,264.83 L427.77,264.22 L427.37,263.62 L426.98,263.02 L426.58,262.41 L426.18,261.81 L425.78,261.21 L425.38,260.61 L424.98,260.02 L424.58,259.42 L424.18,258.82 L423.78,258.22 L423.38,257.62 L422.98,257.02 L422.58,256.42 L422.19,255.82 L421.79,255.21 L421.39,254.61 L421,254 L418.8,249 L418.81,248.3 L418.81,247.6 L418.83,246.89 L418.84,246.19 L418.85,245.49 L418.87,244.78 L418.88,244.08 L418.9,243.37 L418.91,242.67 L418.93,241.97 L418.94,241.26 L418.95,240.56 L418.96,239.86 L418.96,239.16 L418.96,238.46 L418.96,237.77 L418.95,237.07 L418.94,236.38 L418.92,235.69 L418.9,235 L418.87,234.26 L418.85,233.52 L418.82,232.78 L418.8,232.04 L418.77,231.3 L418.75,230.56 L418.71,229.82 L418.68,229.08 L418.64,228.35 L418.59,227.62 L418.53,226.9 L418.46,226.17 L418.38,225.46 L418.29,224.75 L418.19,224.05 L418.08,223.36 L417.95,222.67 L417.8,222 L417.62,221.26 L417.43,220.53 L417.23,219.8 L417.02,219.08 L416.79,218.37 L416.55,217.66 L416.3,216.96 L416.03,216.27 L415.76,215.59 L415.46,214.91 L415.16,214.25 L414.84,213.59 L414.51,212.95 L414.16,212.32 L413.8,211.7 L413.43,211.1 L413.04,210.5 L412.64,209.9 L412.22,209.31 L411.78,208.72 L411.33,208.14 L410.87,207.57 L410.4,207.01 L409.92,206.48 L409.44,205.96 L408.95,205.47 L408.46,205.01 L407.97,204.57 L407.49,204.17 L407,203.8 L406.37,203.37 L405.73,203 L405.1,202.68 L404.46,202.4 L403.8,202.15 L403.14,201.92 L402.45,201.71 L401.74,201.51 L401,201.3 L400.36,201.14 L399.7,201.01 L399.02,200.9 L398.32,200.81 L397.61,200.73 L396.88,200.65 L396.15,200.58 L395.42,200.51 L394.68,200.42 L393.95,200.33 L393.22,200.21 L392.5,200.07 L391.8,199.9 L391.13,199.72 L390.47,199.53 L389.8,199.33 L389.13,199.12 L388.46,198.9 L387.8,198.67 L387.14,198.42 L386.48,198.17 L385.82,197.9 L385.17,197.61 L384.52,197.31 L383.87,196.99 L383.23,196.65 L382.6,196.3 L382,195.94 L381.4,195.55 L380.81,195.15 L380.23,194.72 L379.65,194.28 L379.07,193.82 L378.5,193.35 L377.93,192.87 L377.36,192.38 L376.79,191.88 L376.23,191.38 L375.66,190.88 L375.1,190.38 L374.53,189.88 L373.97,189.39 L373.4,188.9 L372.85,188.44 L372.3,187.97 L371.76,187.52 L371.21,187.06 L370.66,186.6 L370.11,186.15 L369.57,185.69 L369.02,185.22 L368.48,184.75 L367.93,184.27 L367.39,183.79 L366.85,183.29 L366.32,182.78 L365.78,182.26 L365.25,181.72 L364.72,181.17 L364.2,180.6 L363.75,180.1 L363.3,179.58 L362.86,179.05 L362.41,178.51 L361.97,177.96 L361.53,177.39 L361.08,176.82 L360.64,176.24 L360.21,175.65 L359.77,175.06 L359.34,174.46 L358.9,173.85 L358.47,173.24 L358.04,172.63 L357.62,172.02 L357.19,171.4 L356.77,170.78 L356.35,170.16 L355.94,169.55 L355.52,168.93 L355.11,168.32 L354.7,167.71 L354.3,167.1 L353.9,166.5 L353.5,165.89 L353.11,165.29 L352.71,164.68 L352.32,164.07 L351.93,163.46 L351.54,162.85 L351.16,162.23 L350.78,161.62 L350.4,161 L350.02,160.38 L349.65,159.76 L349.28,159.14 L348.91,158.52 L348.54,157.9 L348.18,157.28 L347.81,156.65 L347.46,156.03 L347.1,155.4 L346.75,154.78 L346.39,154.15 L346.05,153.53 L345.7,152.9 L345.35,152.26 L344.99,151.62 L344.64,150.97 L344.29,150.33 L343.94,149.69 L343.59,149.04 L343.25,148.4 L342.91,147.75 L342.57,147.1 L342.23,146.46 L341.9,145.81 L341.57,145.16 L341.25,144.51 L340.93,143.85 L340.61,143.2 L340.31,142.55 L340.01,141.89 L339.71,141.24 L339.42,140.58 L339.14,139.92 L338.87,139.26 L338.6,138.6 L338.34,137.93 L338.08,137.26 L337.82,136.58 L337.57,135.91 L337.33,135.23 L337.08,134.56 L336.85,133.88 L336.62,133.2 L336.39,132.52 L336.17,131.84 L335.96,131.16 L335.76,130.48 L335.56,129.79 L335.37,129.11 L335.19,128.42 L335.02,127.74 L334.86,127.05 L334.7,126.36 L334.56,125.68 L334.42,124.99 L334.3,124.3 L334.18,123.59 L334.08,122.88 L333.98,122.16 L333.89,121.44 L333.81,120.73 L333.74,120 L333.68,119.28 L333.63,118.56 L333.58,117.84 L333.55,117.12 L333.52,116.39 L333.5,115.67 L333.49,114.96 L333.48,114.24 L333.49,113.52 L333.5,112.81 L333.51,112.1 L333.53,111.4 L333.56,110.7 L333.6,110 L333.64,109.26 L333.69,108.52 L333.75,107.78 L333.81,107.04 L333.87,106.3 L333.95,105.56 L334.03,104.82 L334.12,104.09 L334.23,103.36 L334.34,102.63 L334.46,101.91 L334.6,101.2 L334.75,100.49 L334.91,99.8 L335.08,99.11 L335.27,98.43 L335.48,97.76 L335.7,97.1 L335.96,96.41 L336.23,95.73 L336.53,95.06 L336.84,94.38 L337.17,93.72 L337.52,93.06 L337.88,92.42 L338.25,91.78 L338.63,91.15 L339.01,90.53 L339.4,89.93 L339.8,89.33 L340.2,88.75 L340.6,88.19 L341,87.64 L341.4,87.1 L341.86,86.51 L342.33,85.95 L342.81,85.41 L343.3,84.89 L343.79,84.39 L344.29,83.9 L344.79,83.42 L345.3,82.95 L345.8,82.47 L346.3,81.99 L346.8,81.5 L347.3,81 L347.3,66.7 L347.28,66.06 L347.24,65.43 L347.16,64.82 L347.04,64.22 L346.9,63.64 L346.74,63.07 L346.54,62.52 L346.31,61.99 L346.06,61.46 L345.79,60.95 L345.49,60.45 L345.16,59.97 L344.81,59.5 L344.44,59.03 L344.05,58.58 L343.64,58.14 L343.21,57.72 L342.76,57.3 L342.29,56.89 L341.8,56.49 L341.3,56.1 L340.78,55.71 L340.24,55.34 L339.7,54.97 L339.14,54.61 L338.56,54.26 L337.98,53.91 L337.38,53.57 L336.78,53.23 L336.16,52.9 L335.54,52.58 L334.91,52.26 L334.27,51.94 L333.63,51.63 L332.98,51.32 L332.33,51.01 L331.68,50.71 L331.02,50.4 L330.36,50.1 L329.7,49.8 L285.5,29.8 L284.93,29.79 L284.39,29.83 L283.89,29.93 L283.41,30.07 L282.97,30.28 L282.57,30.53 L282.19,30.84 L281.85,31.2 L281.54,31.61 L281.27,32.08 L281.02,32.6 L280.81,33.17 L280.64,33.8 L280.49,34.48 L280.38,35.21 Z " fill="#cbcbcb" stroke="none" stroke-width="0" />
<path d="M280.3,36 L279.2,92.7 L279.4,93.42 L279.57,94.15 L279.72,94.9 L279.88,95.65 L280.03,96.4 L280.19,97.14 L280.38,97.86 L280.59,98.57 L280.85,99.25 L281.15,99.89 L281.5,100.5 L281.9,101.06 L282.34,101.58 L282.83,102.07 L283.34,102.55 L283.89,103 L284.46,103.43 L285.05,103.86 L285.65,104.27 L286.26,104.68 L286.88,105.09 L287.5,105.5 L288.09,105.87 L288.69,106.22 L289.31,106.55 L289.95,106.86 L290.59,107.16 L291.25,107.47 L291.91,107.77 L292.58,108.09 L293.26,108.42 L293.94,108.77 L294.63,109.14 L295.31,109.55 L296,110 L296.51,110.35 L297.02,110.72 L297.54,111.1 L298.07,111.5 L298.6,111.91 L299.13,112.33 L299.67,112.76 L300.21,113.21 L300.76,113.66 L301.31,114.12 L301.85,114.59 L302.4,115.07 L302.95,115.56 L303.5,116.05 L304.04,116.54 L304.59,117.04 L305.13,117.55 L305.67,118.05 L306.21,118.56 L306.74,119.07 L307.26,119.58 L307.79,120.09 L308.3,120.6 L308.79,121.09 L309.29,121.58 L309.8,122.08 L310.3,122.58 L310.81,123.09 L311.32,123.6 L311.83,124.11 L312.33,124.63 L312.84,125.15 L313.34,125.67 L313.84,126.2 L314.34,126.73 L314.83,127.27 L315.31,127.81 L315.79,128.35 L316.26,128.9 L316.72,129.45 L317.18,130.01 L317.62,130.56 L318.05,131.13 L318.47,131.69 L318.87,132.26 L319.26,132.84 L319.64,133.42 L320,134 L320.36,134.61 L320.71,135.22 L321.04,135.84 L321.36,136.46 L321.68,137.09 L321.98,137.72 L322.27,138.36 L322.55,139 L322.82,139.64 L323.08,140.29 L323.33,140.94 L323.58,141.6 L323.81,142.26 L324.04,142.92 L324.26,143.59 L324.47,144.26 L324.68,144.93 L324.88,145.6 L325.07,146.28 L325.26,146.96 L325.45,147.64 L325.63,148.32 L325.8,149 L325.96,149.68 L326.12,150.35 L326.26,151.03 L326.4,151.71 L326.52,152.39 L326.64,153.07 L326.75,153.75 L326.86,154.44 L326.95,155.13 L327.04,155.82 L327.12,156.52 L327.2,157.22 L327.28,157.92 L327.34,158.62 L327.41,159.34 L327.47,160.05 L327.53,160.77 L327.59,161.5 L327.64,162.23 L327.69,162.97 L327.74,163.72 L327.8,164.47 L327.85,165.23 L327.9,166 L327.94,166.65 L327.98,167.3 L328.01,167.96 L328.04,168.63 L328.07,169.3 L328.09,169.98 L328.11,170.67 L328.13,171.36 L328.15,172.05 L328.16,172.75 L328.17,173.45 L328.18,174.16 L328.19,174.87 L328.19,175.58 L328.19,176.3 L328.2,177.02 L328.2,177.74 L328.2,178.46 L328.19,179.18 L328.19,179.91 L328.19,180.63 L328.19,181.36 L328.19,182.09 L328.18,182.81 L328.18,183.54 L328.18,184.26 L328.18,184.99 L328.18,185.71 L328.18,186.43 L328.18,187.15 L328.18,187.87 L328.19,188.58 L328.19,189.29 L328.2,190 L327.6,228 L327.44,228.72 L327.29,229.45 L327.16,230.2 L327.04,230.95 L326.91,231.7 L326.78,232.44 L326.64,233.18 L326.48,233.9 L326.29,234.6 L326.07,235.26 L325.81,235.9 L325.5,236.5 L325.12,237.11 L324.71,237.7 L324.26,238.26 L323.77,238.79 L323.26,239.3 L322.73,239.78 L322.17,240.25 L321.59,240.69 L321,241.1 L320.4,241.5 L319.8,241.87 L319.17,242.23 L318.51,242.58 L317.84,242.91 L317.14,243.22 L316.44,243.51 L315.73,243.75 L315.01,243.96 L314.3,244.13 L313.59,244.24 L312.9,244.3 L312.22,244.3 L311.54,244.24 L310.86,244.14 L310.18,243.99 L309.5,243.8 L308.81,243.58 L308.13,243.34 L307.44,243.07 L306.76,242.79 L306.08,242.5 L305.4,242.2 L304.8,241.92 L304.19,241.61 L303.58,241.27 L302.97,240.91 L302.35,240.54 L301.74,240.14 L301.13,239.74 L300.53,239.34 L299.92,238.93 L299.32,238.52 L298.73,238.12 L298.15,237.73 L297.57,237.36 L297,237 L296.37,236.61 L295.75,236.24 L295.14,235.87 L294.54,235.5 L293.95,235.14 L293.36,234.78 L292.77,234.43 L292.18,234.07 L291.59,233.72 L291,233.36 L290.4,233 L281.5,229.2 L280.84,229.26 L280.24,229.38 L279.71,229.58 L279.26,229.86 L278.88,230.2 L278.56,230.62 L278.31,231.1 L278.14,231.66 L278.04,232.3 L278,233 L278,260 L281,300 L286,377.8 L285.99,378.71 L285.95,379.6 L285.89,380.45 L285.81,381.28 L285.71,382.08 L285.58,382.86 L285.43,383.61 L285.27,384.34 L285.08,385.04 L284.88,385.72 L284.66,386.39 L284.42,387.03 L284.17,387.65 L283.9,388.25 L283.61,388.83 L283.32,389.4 L283.01,389.95 L282.68,390.48 L282.35,391 L282,391.51 L281.64,392 L281.27,392.48 L280.9,392.95 L280.51,393.41 L280.12,393.86 L279.72,394.3 L279.32,394.73 L278.91,395.16 L278.49,395.57 L278.07,395.99 L277.65,396.39 L277.23,396.8 L276.8,397.2 L279.67,398.9 M392.97,465.91 L396.5,468 L396.99,467.55 L397.47,467.1 L397.96,466.64 L398.44,466.18 L398.92,465.71 L399.39,465.24 L399.86,464.76 L400.33,464.28 L400.79,463.79 L401.25,463.29 L401.69,462.79 L402.13,462.28 L402.56,461.77 L402.99,461.25 L403.4,460.72 L403.8,460.18 L404.19,459.64 L404.57,459.09 L404.93,458.53 L405.28,457.97 L405.62,457.39 L405.94,456.81 L406.25,456.22 L406.54,455.63 L406.81,455.02 L407.07,454.4 L407.3,453.78 L407.52,453.15 L407.72,452.5 L407.9,451.85 L408.05,451.19 L408.19,450.52 L408.3,449.83 L408.38,449.14 L408.45,448.44 L408.49,447.72 L408.5,447 L408.5,401 L408.9,400.41 L409.27,399.78 L409.63,399.15 L410,398.53 L410.42,397.95 L410.91,397.44 L411.5,397 L412.03,396.74 L412.61,396.54 L413.25,396.4 L413.93,396.3 L414.65,396.22 L415.39,396.17 L416.16,396.13 L416.94,396.09 L417.72,396.04 L418.49,395.96 L419.26,395.85 L420,395.7 L420.65,395.54 L421.31,395.37 L421.98,395.2 L422.66,395.02 L423.34,394.83 L424.03,394.64 L424.71,394.43 L425.4,394.21 L426.08,393.98 L426.76,393.74 L427.43,393.48 L428.09,393.21 L428.74,392.92 L429.38,392.62 L430,392.3 L430.62,391.96 L431.23,391.6 L431.84,391.23 L432.43,390.85 L433.02,390.45 L433.61,390.04 L434.18,389.61 L434.75,389.17 L435.32,388.72 L435.88,388.25 L436.43,387.77 L436.98,387.27 L437.52,386.76 L438.06,386.24 L438.6,385.7 L439.06,385.23 L439.52,384.75 L439.97,384.25 L440.43,383.75 L440.89,383.24 L441.34,382.71 L441.79,382.18 L442.24,381.63 L442.68,381.08 L443.11,380.51 L443.54,379.93 L443.96,379.35 L444.38,378.75 L444.78,378.15 L445.18,377.53 L445.57,376.9 L445.94,376.27 L446.31,375.62 L446.66,374.97 L447,374.3 L447.28,373.72 L447.56,373.12 L447.83,372.52 L448.1,371.91 L448.36,371.28 L448.61,370.65 L448.86,370.01 L449.1,369.36 L449.33,368.7 L449.56,368.03 L449.78,367.36 L449.99,366.68 L450.2,365.99 L450.4,365.3 L450.6,364.61 L450.79,363.9 L450.97,363.2 L451.14,362.49 L451.31,361.78 L451.47,361.06 L451.62,360.34 L451.77,359.62 L451.91,358.9 L452.04,358.17 L452.17,357.45 L452.29,356.72 L452.4,356 L452.49,355.35 L452.58,354.69 L452.66,354.02 L452.73,353.35 L452.8,352.68 L452.86,352 L452.91,351.32 L452.95,350.63 L453,349.94 L453.03,349.25 L453.06,348.55 L453.08,347.85 L453.1,347.15 L453.11,346.45 L453.12,345.74 L453.12,345.03 L453.12,344.33 L453.11,343.62 L453.1,342.9 L453.09,342.19 L453.07,341.48 L453.05,340.77 L453.02,340.06 L452.99,339.34 L452.96,338.63 L452.92,337.92 L452.88,337.21 L452.84,336.51 L452.8,335.8 L452.75,335.1 L452.7,334.39 L452.65,333.7 L452.6,333 L452.54,332.3 L452.48,331.6 L452.42,330.9 L452.35,330.19 L452.28,329.49 L452.2,328.78 L452.12,328.08 L452.03,327.37 L451.95,326.66 L451.85,325.96 L451.76,325.25 L451.66,324.54 L451.55,323.83 L451.45,323.13 L451.34,322.42 L451.22,321.72 L451.11,321.01 L450.99,320.31 L450.86,319.61 L450.73,318.91 L450.6,318.21 L450.47,317.51 L450.33,316.82 L450.19,316.12 L450.05,315.43 L449.9,314.74 L449.75,314.06 L449.6,313.37 L449.45,312.69 L449.29,312.01 L449.13,311.34 L448.97,310.67 L448.8,310 L448.62,309.3 L448.44,308.61 L448.26,307.92 L448.07,307.23 L447.88,306.55 L447.69,305.87 L447.49,305.19 L447.29,304.51 L447.08,303.83 L446.88,303.16 L446.67,302.49 L446.45,301.82 L446.23,301.15 L446.01,300.48 L445.79,299.82 L445.56,299.15 L445.33,298.49 L445.09,297.83 L444.85,297.17 L444.61,296.52 L444.36,295.86 L444.12,295.21 L443.86,294.55 L443.61,293.9 L443.35,293.25 L443.08,292.6 L442.82,291.95 L442.55,291.3 L442.28,290.65 L442,290 L441.72,289.35 L441.43,288.7 L441.13,288.05 L440.83,287.4 L440.53,286.75 L440.22,286.1 L439.91,285.45 L439.59,284.81 L439.27,284.17 L438.95,283.52 L438.62,282.88 L438.29,282.24 L437.96,281.6 L437.62,280.97 L437.28,280.33 L436.94,279.7 L436.6,279.06 L436.25,278.43 L435.9,277.8 L435.55,277.18 L435.2,276.55 L434.85,275.93 L434.49,275.3 L434.14,274.68 L433.78,274.07 L433.43,273.45 L433.07,272.83 L432.71,272.22 L432.36,271.61 L432,271 L431.63,270.37 L431.25,269.74 L430.87,269.12 L430.49,268.5 L430.11,267.88 L429.73,267.26 L429.34,266.65 L428.95,266.04 L428.56,265.43 L428.16,264.83 L427.77,264.22 L427.37,263.62 L426.98,263.02 L426.58,262.41 L426.18,261.81 L425.78,261.21 L425.38,260.61 L424.98,260.02 L424.58,259.42 L424.18,258.82 L423.78,258.22 L423.38,257.62 L422.98,257.02 L422.58,256.42 L422.19,255.82 L421.79,255.21 L421.39,254.61 L421,254 L418.8,249 L418.81,248.3 L418.81,247.6 L418.83,246.89 L418.84,246.19 L418.85,245.49 L418.87,244.78 L418.88,244.08 L418.9,243.37 L418.91,242.67 L418.93,241.97 L418.94,241.26 L418.95,240.56 L418.96,239.86 L418.96,239.16 L418.96,238.46 L418.96,237.77 L418.95,237.07 L418.94,236.38 L418.92,235.69 L418.9,235 L418.87,234.26 L418.85,233.52 L418.82,232.78 L418.8,232.04 L418.77,231.3 L418.75,230.56 L418.71,229.82 L418.68,229.08 L418.64,228.35 L418.59,227.62 L418.53,226.9 L418.46,226.17 L418.38,225.46 L418.29,224.75 L418.19,224.05 L418.08,223.36 L417.95,222.67 L417.8,222 L417.62,221.26 L417.43,220.53 L417.23,219.8 L417.02,219.08 L416.79,218.37 L416.55,217.66 L416.3,216.96 L416.03,216.27 L415.76,215.59 L415.46,214.91 L415.16,214.25 L414.84,213.59 L414.51,212.95 L414.16,212.32 L413.8,211.7 L413.43,211.1 L413.04,210.5 L412.64,209.9 L412.22,209.31 L411.78,208.72 L411.33,208.14 L410.87,207.57 L410.4,207.01 L409.92,206.48 L409.44,205.96 L408.95,205.47 L408.46,205.01 L407.97,204.57 L407.49,204.17 L407,203.8 L406.37,203.37 L405.73,203 L405.1,202.68 L404.46,202.4 L403.8,202.15 L403.14,201.92 L402.45,201.71 L401.74,201.51 L401,201.3 L400.36,201.14 L399.7,201.01 L399.02,200.9 L398.32,200.81 L397.61,200.73 L396.88,200.65 L396.15,200.58 L395.42,200.51 L394.68,200.42 L393.95,200.33 L393.22,200.21 L392.5,200.07 L391.8,199.9 L391.13,199.72 L390.47,199.53 L389.8,199.33 L389.13,199.12 L388.46,198.9 L387.8,198.67 L387.14,198.42 L386.48,198.17 L385.82,197.9 L385.17,197.61 L384.52,197.31 L383.87,196.99 L383.23,196.65 L382.6,196.3 L382,195.94 L381.4,195.55 L380.81,195.15 L380.23,194.72 L379.65,194.28 L379.07,193.82 L378.5,193.35 L377.93,192.87 L377.36,192.38 L376.79,191.88 L376.23,191.38 L375.66,190.88 L375.1,190.38 L374.53,189.88 L373.97,189.39 L373.4,188.9 L372.85,188.44 L372.3,187.97 L371.76,187.52 L371.21,187.06 L370.66,186.6 L370.11,186.15 L369.57,185.69 L369.02,185.22 L368.48,184.75 L367.93,184.27 L367.39,183.79 L366.85,183.29 L366.32,182.78 L365.78,182.26 L365.25,181.72 L364.72,181.17 L364.2,180.6 L363.75,180.1 L363.3,179.58 L362.86,179.05 L362.41,178.51 L361.97,177.96 L361.53,177.39 L361.08,176.82 L360.64,176.24 L360.21,175.65 L359.77,175.06 L359.34,174.46 L358.9,173.85 L358.47,173.24 L358.04,172.63 L357.62,172.02 L357.19,171.4 L356.77,170.78 L356.35,170.16 L355.94,169.55 L355.52,168.93 L355.11,168.32 L354.7,167.71 L354.3,167.1 L353.9,166.5 L353.5,165.89 L353.11,165.29 L352.71,164.68 L352.32,164.07 L351.93,163.46 L351.54,162.85 L351.16,162.23 L350.78,161.62 L350.4,161 L350.02,160.38 L349.65,159.76 L349.28,159.14 L348.91,158.52 L348.54,157.9 L348.18,157.28 L347.81,156.65 L347.46,156.03 L347.1,155.4 L346.75,154.78 L346.39,154.15 L346.05,153.53 L345.7,152.9 L345.35,152.26 L344.99,151.62 L344.64,150.97 L344.29,150.33 L343.94,149.69 L343.59,149.04 L343.25,148.4 L342.91,147.75 L342.57,147.1 L342.23,146.46 L341.9,145.81 L341.57,145.16 L341.25,144.51 L340.93,143.85 L340.61,143.2 L340.31,142.55 L340.01,141.89 L339.71,141.24 L339.42,140.58 L339.14,139.92 L338.87,139.26 L338.6,138.6 L338.34,137.93 L338.08,137.26 L337.82,136.58 L337.57,135.91 L337.33,135.23 L337.08,134.56 L336.85,133.88 L336.62,133.2 L336.39,132.52 L336.17,131.84 L335.96,131.16 L335.76,130.48 L335.56,129.79 L335.37,129.11 L335.19,128.42 L335.02,127.74 L334.86,127.05 L334.7,126.36 L334.56,125.68 L334.42,124.99 L334.3,124.3 L334.18,123.59 L334.08,122.88 L333.98,122.16 L333.89,121.44 L333.81,120.73 L333.74,120 L333.68,119.28 L333.63,118.56 L333.58,117.84 L333.55,117.12 L333.52,116.39 L333.5,115.67 L333.49,114.96 L333.48,114.24 L333.49,113.52 L333.5,112.81 L333.51,112.1 L333.53,111.4 L333.56,110.7 L333.6,110 L333.64,109.26 L333.69,108.52 L333.75,107.78 L333.81,107.04 L333.87,106.3 L333.95,105.56 L334.03,104.82 L334.12,104.09 L334.23,103.36 L334.34,102.63 L334.46,101.91 L334.6,101.2 L334.75,100.49 L334.91,99.8 L335.08,99.11 L335.27,98.43 L335.48,97.76 L335.7,97.1 L335.96,96.41 L336.23,95.73 L336.53,95.06 L336.84,94.38 L337.17,93.72 L337.52,93.06 L337.88,92.42 L338.25,91.78 L338.63,91.15 L339.01,90.53 L339.4,89.93 L339.8,89.33 L340.2,88.75 L340.6,88.19 L341,87.64 L341.4,87.1 L341.86,86.51 L342.33,85.95 L342.81,85.41 L343.3,84.89 L343.79,84.39 L344.29,83.9 L344.79,83.42 L345.3,82.95 L345.8,82.47 L346.3,81.99 L346.8,81.5 L347.3,81 L347.3,66.7 L347.28,66.06 L347.24,65.43 L347.16,64.82 L347.04,64.22 L346.9,63.64 L346.74,63.07 L346.54,62.52 L346.31,61.99 L346.06,61.46 L345.79,60.95 L345.49,60.45 L345.16,59.97 L344.81,59.5 L344.44,59.03 L344.05,58.58 L343.64,58.14 L343.21,57.72 L342.76,57.3 L342.29,56.89 L341.8,56.49 L341.3,56.1 L340.78,55.71 L340.24,55.34 L339.7,54.97 L339.14,54.61 L338.56,54.26 L337.98,53.91 L337.38,53.57 L336.78,53.23 L336.16,52.9 L335.54,52.58 L334.91,52.26 L334.27,51.94 L333.63,51.63 L332.98,51.32 L332.33,51.01 L331.68,50.71 L331.02,50.4 L330.36,50.1 L329.7,49.8 L285.5,29.8 L284.93,29.79 L284.39,29.83 L283.89,29.93 L283.41,30.07 L282.97,30.28 L282.57,30.53 L282.19,30.84 L281.85,31.2 L281.54,31.61 L281.27,32.08 L281.02,32.6 L280.81,33.17 L280.64,33.8 L280.49,34.48 L280.38,35.21 L280.3,36 " fill="none" stroke="#000" stroke-width="2.6" />
<path d="M405.78,494.56 C405.25,491.71 405.02,488.65 404.2,486 C403.45,483.56 402.34,481.22 401.2,479.2 C400.18,477.4 398.8,475.87 397.8,474.4 C396.97,473.18 395.89,472.08 395.6,471 C395.37,470.17 395.41,469.33 395.7,468.6 C396.01,467.82 396.9,467.2 397.5,466.5" fill="none" stroke="#000" stroke-width="2.6" />
<line x1="329.7" y1="49.8" x2="340.6" y2="42.9" stroke="#000" stroke-width="1.5" />
<line x1="345" y1="59.8" x2="357.3" y2="54.4" stroke="#000" stroke-width="1.5" />
<line x1="347.3" y1="79.7" x2="359.6" y2="73.5" stroke="#000" stroke-width="1.5" />
<line x1="401.3" y1="201.3" x2="412.5" y2="195" stroke="#000" stroke-width="1.5" />
<line x1="418.9" y1="225" x2="429.8" y2="218.9" stroke="#000" stroke-width="1.5" />
<line x1="418.9" y1="249" x2="430.5" y2="242.5" stroke="#000" stroke-width="1.5" />
<line x1="421" y1="254" x2="433" y2="248" stroke="#000" stroke-width="1.5" />
<line x1="290.4" y1="232.8" x2="300.5" y2="226.2" stroke="#000" stroke-width="1.5" />
<ellipse cx="381" cy="303" rx="67.36" ry="38.89" transform="rotate(60 381 303)" fill="#cbcbcb" stroke="none" stroke-width="0" />
<g clip-path="url(#bh)">
<ellipse cx="393.3" cy="295" rx="67.36" ry="38.89" transform="rotate(60 393.3 295)" fill="#fff" stroke="#000" stroke-width="2.6" />
</g>
<ellipse cx="381" cy="303" rx="67.36" ry="38.89" transform="rotate(60 381 303)" fill="none" stroke="#000" stroke-width="2.6" />
<g clip-path="url(#h1)">
<ellipse cx="312.8" cy="83.7" rx="13.9" ry="11.1" transform="rotate(80 312.8 83.7)" fill="#fff" stroke="#000" stroke-width="2.6" />
</g>
<ellipse cx="298.8" cy="89.7" rx="13.9" ry="11.1" transform="rotate(80 298.8 89.7)" fill="none" stroke="#000" stroke-width="2.6" />
<line x1="302.5" y1="76.5" x2="303.8" y2="104" stroke="#000" stroke-width="1.4" />
<ellipse cx="374.2" cy="218.1" rx="13.7" ry="7.9" transform="rotate(62 374.2 218.1)" fill="none" stroke="#000" stroke-width="2.6" />
<ellipse cx="298.5" cy="260" rx="19" ry="8.8" transform="rotate(66 298.5 260)" fill="none" stroke="#000" stroke-width="2.6" />
<line x1="290" y1="257.3" x2="300.5" y2="251.5" stroke="#000" stroke-width="1.74" />
<line x1="296" y1="267.3" x2="305.5" y2="262.5" stroke="#000" stroke-width="1.74" />
<line x1="303.9" y1="258.6" x2="303.9" y2="283.5" stroke="#000" stroke-width="1.45" />
<path d="M286,377.8 L408.5,447" fill="none" stroke="#000" stroke-width="1.89" />
<path d="M276.8,397.2 L397.5,466.3" fill="none" stroke="#000" stroke-width="1.89" />
<line x1="239.3" y1="49" x2="239.3" y2="122.8" stroke="#000" stroke-width="1.45" />
<line x1="239.3" y1="160.5" x2="239.3" y2="229.5" stroke="#000" stroke-width="1.45" />
<path d="M239.3,47.3 L242.7,60.8 L235.9,60.8 Z" fill="#000"/>
<path d="M239.3,231.3 L235.9,217.8 L242.7,217.8 Z" fill="#000"/>
<line x1="233" y1="45" x2="317.5" y2="95" stroke="#000" stroke-width="1.45" stroke-dasharray="15.5 3.6 4.3 3.6" stroke-dashoffset="3.3"/>
<line x1="233" y1="227" x2="318" y2="278" stroke="#000" stroke-width="1.45" stroke-dasharray="15.5 3.6 4.3 3.6" stroke-dashoffset="3.3"/>
<line x1="290.5" y1="207" x2="290.5" y2="242" stroke="#000" stroke-width="1.45" />
<line x1="404.3" y1="168.4" x2="379" y2="210.5" stroke="#000" stroke-width="1.45" />
<line x1="359.6" y1="209.5" x2="512" y2="299.7" stroke="#000" stroke-width="1.45" stroke-dasharray="23.5 5 6 5" stroke-dashoffset="19"/>
<line x1="328.8" y1="273.4" x2="512" y2="381" stroke="#000" stroke-width="1.45" stroke-dasharray="23.5 5 6 5" stroke-dashoffset="11.2"/>
<line x1="365.3" y1="56.7" x2="578.2" y2="178.8" stroke="#000" stroke-width="1.45" />
<line x1="572.4" y1="178" x2="572.4" y2="356" stroke="#000" stroke-width="1.45" />
<line x1="572.4" y1="397" x2="572.4" y2="553" stroke="#000" stroke-width="1.45" />
<path d="M572.4,176.4 L575.8,189.9 L569,189.9 Z" fill="#000"/>
<path d="M572.4,554.9 L569,541.4 L575.8,541.4 Z" fill="#000"/>
<line x1="507" y1="299" x2="507" y2="317.7" stroke="#000" stroke-width="1.45" />
<line x1="507" y1="356.3" x2="507" y2="378" stroke="#000" stroke-width="1.45" />
<path d="M507,297.1 L510.4,310.6 L503.6,310.6 Z" fill="#000"/>
<path d="M507,379.4 L503.6,365.9 L510.4,365.9 Z" fill="#000"/>
<line x1="507" y1="383" x2="507" y2="430" stroke="#000" stroke-width="1.45" />
<line x1="507" y1="468" x2="507" y2="530" stroke="#000" stroke-width="1.45" />
<path d="M507,381.1 L510.4,394.6 L503.6,394.6 Z" fill="#000"/>
<path d="M507,532 L503.6,518.5 L510.4,518.5 Z" fill="#000"/>
<line x1="421.4" y1="467" x2="577.6" y2="558" stroke="#000" stroke-width="1.45" />
<line x1="403" y1="470.6" x2="511.8" y2="535" stroke="#000" stroke-width="1.45" />
<path d="M536.5,535.2 L526.51,544.89 L523.11,539.01 Z" fill="#000"/>
<line x1="519.4" y1="545.7" x2="534" y2="537" stroke="#000" stroke-width="1.45" />
<path d="M453.6,582.4 L463.59,572.71 L466.99,578.59 Z" fill="#000"/>
<line x1="472" y1="571.7" x2="455" y2="581.6" stroke="#000" stroke-width="1.45" />
<path d="M571.5,555.8 L561.51,565.49 L558.11,559.61 Z" fill="#000"/>
<line x1="493.4" y1="600" x2="570" y2="556.7" stroke="#000" stroke-width="1.45" />
<path d="M364.5,676.3 L374.49,666.61 L377.89,672.49 Z" fill="#000"/>
<line x1="441.5" y1="630.6" x2="366" y2="675.5" stroke="#000" stroke-width="1.45" />
<line x1="207" y1="583.8" x2="373.2" y2="681.3" stroke="#000" stroke-width="1.45" />
<polyline points="255.7,301.5 316.9,338 347.5,322.7" fill="none" stroke="#000" stroke-width="1.45"/>
<line x1="161.4" y1="445.3" x2="263" y2="477" stroke="#000" stroke-width="1.45" />
<line x1="128.8" y1="487.4" x2="203.5" y2="496.4" stroke="#000" stroke-width="1.45" />
<polyline points="112,527.7 181.8,527.7 191.3,519.5" fill="none" stroke="#000" stroke-width="1.45"/>
<line x1="130.2" y1="571.1" x2="173.6" y2="550.8" stroke="#000" stroke-width="1.45" />
<g style="will-change:transform">
<text x="210.2" y="153" font-size="31" textLength="57.05" lengthAdjust="spacingAndGlyphs">36,4</text>
<text x="254.4" y="198.4" font-size="31" textLength="64.42" lengthAdjust="spacingAndGlyphs">ø 4,4</text>
<text x="372.8" y="156.6" font-size="31" textLength="65.23" lengthAdjust="spacingAndGlyphs">ø 4,4</text>
<text x="167.4" y="303.7" font-size="31" textLength="82.23" lengthAdjust="spacingAndGlyphs">ø 22,5</text>
<text x="482" y="348.5" font-size="31" textLength="55.34" lengthAdjust="spacingAndGlyphs">16,8</text>
<text x="545.2" y="386.5" font-size="31" textLength="52.5" lengthAdjust="spacingAndGlyphs">78,1</text>
<text x="480.6" y="459.8" font-size="31" textLength="56.33" lengthAdjust="spacingAndGlyphs">29,3</text>
<text x="478.6" y="568.4" font-size="31" textLength="33.92" lengthAdjust="spacingAndGlyphs">27</text>
<text x="449.4" y="624.6" font-size="31" textLength="34.71" lengthAdjust="spacingAndGlyphs">49</text>
<text x="65.2" y="448.7" font-size="31" textLength="88.91" lengthAdjust="spacingAndGlyphs">1/4-20</text>
<text x="64.8" y="493.5" font-size="31" textLength="57.25" lengthAdjust="spacingAndGlyphs">ø 25</text>
<text x="64.8" y="538.7" font-size="31" textLength="40.91" lengthAdjust="spacingAndGlyphs">ø 7</text>
<text x="64.8" y="583.9" font-size="31" textLength="57.84" lengthAdjust="spacingAndGlyphs">ø 44</text>
</g></g></svg>
</body></html>
